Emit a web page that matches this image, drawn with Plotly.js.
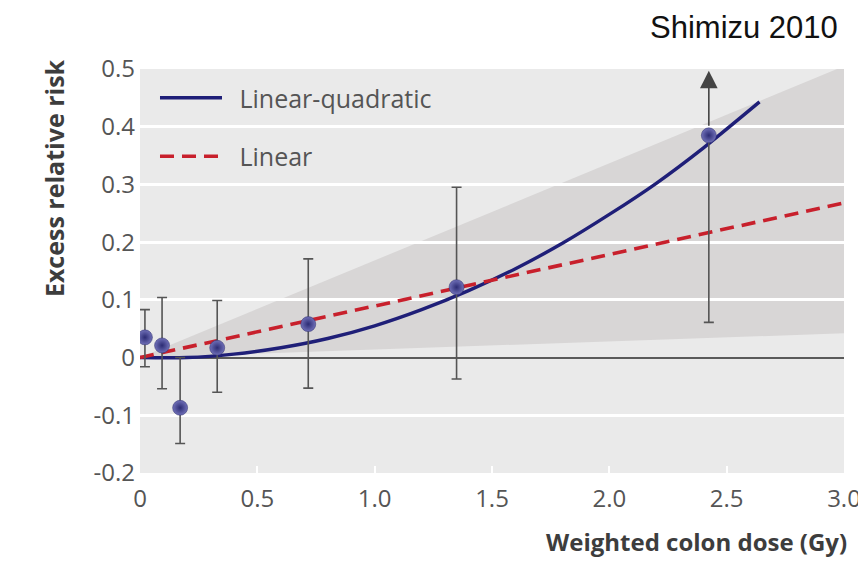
<!DOCTYPE html>
<html>
<head>
<meta charset="utf-8">
<script src="https://cdn.plot.ly/plotly-3.0.1.min.js"></script>
<style>
html,body{margin:0;padding:0;background:#fff;}
#chart{width:858px;height:561px;}
</style>
</head>
<body>
<div id="chart"></div>
<script>
// Observed points (dose in Gy, excess relative risk)
var pointDose = [0.021, 0.094, 0.171, 0.329, 0.717, 1.349, 2.424];
var pointERR  = [0.035, 0.021, -0.087, 0.017, 0.058, 0.122, 0.385];
var ciUpper   = [0.083, 0.104, 0.000, 0.099, 0.171, 0.295, 0.385];
var ciLower   = [-0.016, -0.054, -0.149, -0.060, -0.053, -0.037, 0.061];

// Linear-quadratic fit
var lqDose = [0, 0.2, 0.4, 0.6, 0.8, 1.0, 1.2, 1.4, 1.6, 1.8, 2.0, 2.2, 2.4, 2.64];
var lqERR  = [0, 0.000, 0.006, 0.017, 0.033, 0.055, 0.083, 0.116, 0.154, 0.198, 0.248, 0.302, 0.363, 0.443];

// Linear fit
var linDose = [0, 3.0];
var linERR  = [0, 0.268];

// Confidence band of the linear fit
var bandDose  = [0, 3.0];
var bandUpper = [0, 0.505];
var bandLower = [0, 0.042];

// Arrow (upper bound off the chart) on the last point
var arrowDose = 2.424;
var arrowTip = 0.497;

var xTickVals = [0, 0.5, 1.0, 1.5, 2.0, 2.5, 3.0];
var xTickText = ["0", "0.5", "1.0", "1.5", "2.0", "2.5", "3.0"];
var yTickVals = [0.5, 0.4, 0.3, 0.2, 0.1, 0, -0.1, -0.2];
var yTickText = ["0.5", "0.4", "0.3", "0.2", "0.1", "0", "-0.1", "-0.2"];

var errPlus = pointERR.map(function(v, i){ return ciUpper[i] - v; });
var errMinus = pointERR.map(function(v, i){ return v - ciLower[i]; });

// band path built from the arrays, in data coordinates
var bandPath = 'M' + bandDose.map(function(d, i){ return d + ',' + bandUpper[i]; }).join('L');
for (var i = bandDose.length - 1; i >= 0; i--) { bandPath += 'L' + bandDose[i] + ',' + bandLower[i]; }
bandPath += 'Z';

var FONT = '"Open Sans", "DejaVu Sans", sans-serif';

var traces = [
  {
    x: lqDose, y: lqERR, type: 'scatter', mode: 'lines',
    name: '\u2002Linear-quadratic', legendgroup: 'a',
    line: {color: '#1f1f78', width: 3.4, shape: 'spline', smoothing: 0.8},
    hoverinfo: 'skip'
  },
  {
    x: linDose, y: linERR, type: 'scatter', mode: 'lines',
    name: '\u2002Linear', legendgroup: 'b',
    line: {color: '#c8202c', width: 3.6, dash: '14px,8px'},
    hoverinfo: 'skip'
  },
  {
    x: pointDose, y: pointERR, type: 'scatter', mode: 'markers',
    name: 'Observed', showlegend: false,
    marker: {
      size: 15, color: '#7070b8',
      gradient: {type: 'radial', color: '#2c2c74'},
      line: {width: 0.5, color: '#2a2a6a'}
    },
    error_y: {
      type: 'data', symmetric: false, array: errPlus, arrayminus: errMinus,
      color: '#555555', thickness: 1.6, width: 5
    }
  }
];

var layout = {
  width: 858, height: 561,
  margin: {l: 140, r: 14, t: 69, b: 88, pad: 0},
  paper_bgcolor: '#ffffff',
  plot_bgcolor: '#eaeaea',
  showlegend: true,
  legend: {
    x: 0.0213, y: 0.985, xanchor: 'left', yanchor: 'top',
    bgcolor: 'rgba(0,0,0,0)', borderwidth: 0,
    font: {family: FONT, size: 25, color: '#555555'},
    traceorder: 'grouped', tracegroupgap: 23, itemwidth: 62
  },
  xaxis: {
    range: [0, 3.0], tickvals: xTickVals, ticktext: xTickText,
    showgrid: false, zeroline: false, showline: false,
    ticks: 'inside', ticklen: 7, tickwidth: 2, tickcolor: '#ffffff',
    ticklabelstandoff: 9, ticklabeloverflow: 'allow',
    tickfont: {family: FONT, size: 24, color: '#555555'}
  },
  yaxis: {
    range: [-0.2, 0.5], tickvals: yTickVals, ticktext: yTickText,
    showgrid: true, gridcolor: '#ffffff', gridwidth: 3,
    zeroline: true, zerolinecolor: '#5a5a5a', zerolinewidth: 2,
    showline: false, ticks: '', ticklabelstandoff: 4,
    tickfont: {family: FONT, size: 24, color: '#555555'}
  },
  shapes: [
    {type: 'path', xref: 'x', yref: 'y', path: bandPath,
     fillcolor: '#d8d6d6', line: {width: 0}, layer: 'below'}
  ],
  annotations: [
    {text: 'Shimizu 2010', xref: 'paper', yref: 'paper', x: 1, y: 1,
     xanchor: 'right', yanchor: 'middle', xshift: -4, yshift: 42, showarrow: false,
     font: {family: '"Liberation Sans", Arial, sans-serif', size: 31, color: '#111111'}},
    {text: '<b>Weighted colon dose (Gy)</b>', xref: 'paper', yref: 'paper', x: 1, y: 0,
     xanchor: 'right', yanchor: 'bottom', xshift: 5, yshift: -87, showarrow: false,
     font: {family: FONT, size: 24, color: '#3d3d3d'}},
    {text: '<b>Excess relative risk</b>', xref: 'paper', yref: 'y', x: 0, y: 0.311,
     xanchor: 'center', yanchor: 'middle', xshift: -86, textangle: -90, showarrow: false,
     font: {family: FONT, size: 25, color: '#3d3d3d'}},
    {text: '', xref: 'x', yref: 'y', x: arrowDose, y: arrowTip,
     axref: 'x', ayref: 'y', ax: arrowDose, ay: pointERR[6] + 0.014,
     showarrow: true, arrowhead: 2, arrowsize: 2.2, arrowwidth: 1.6, arrowcolor: '#444444'}
  ]
};

Plotly.newPlot('chart', traces, layout, {displayModeBar: false, staticPlot: true});
</script>
</body>
</html>
